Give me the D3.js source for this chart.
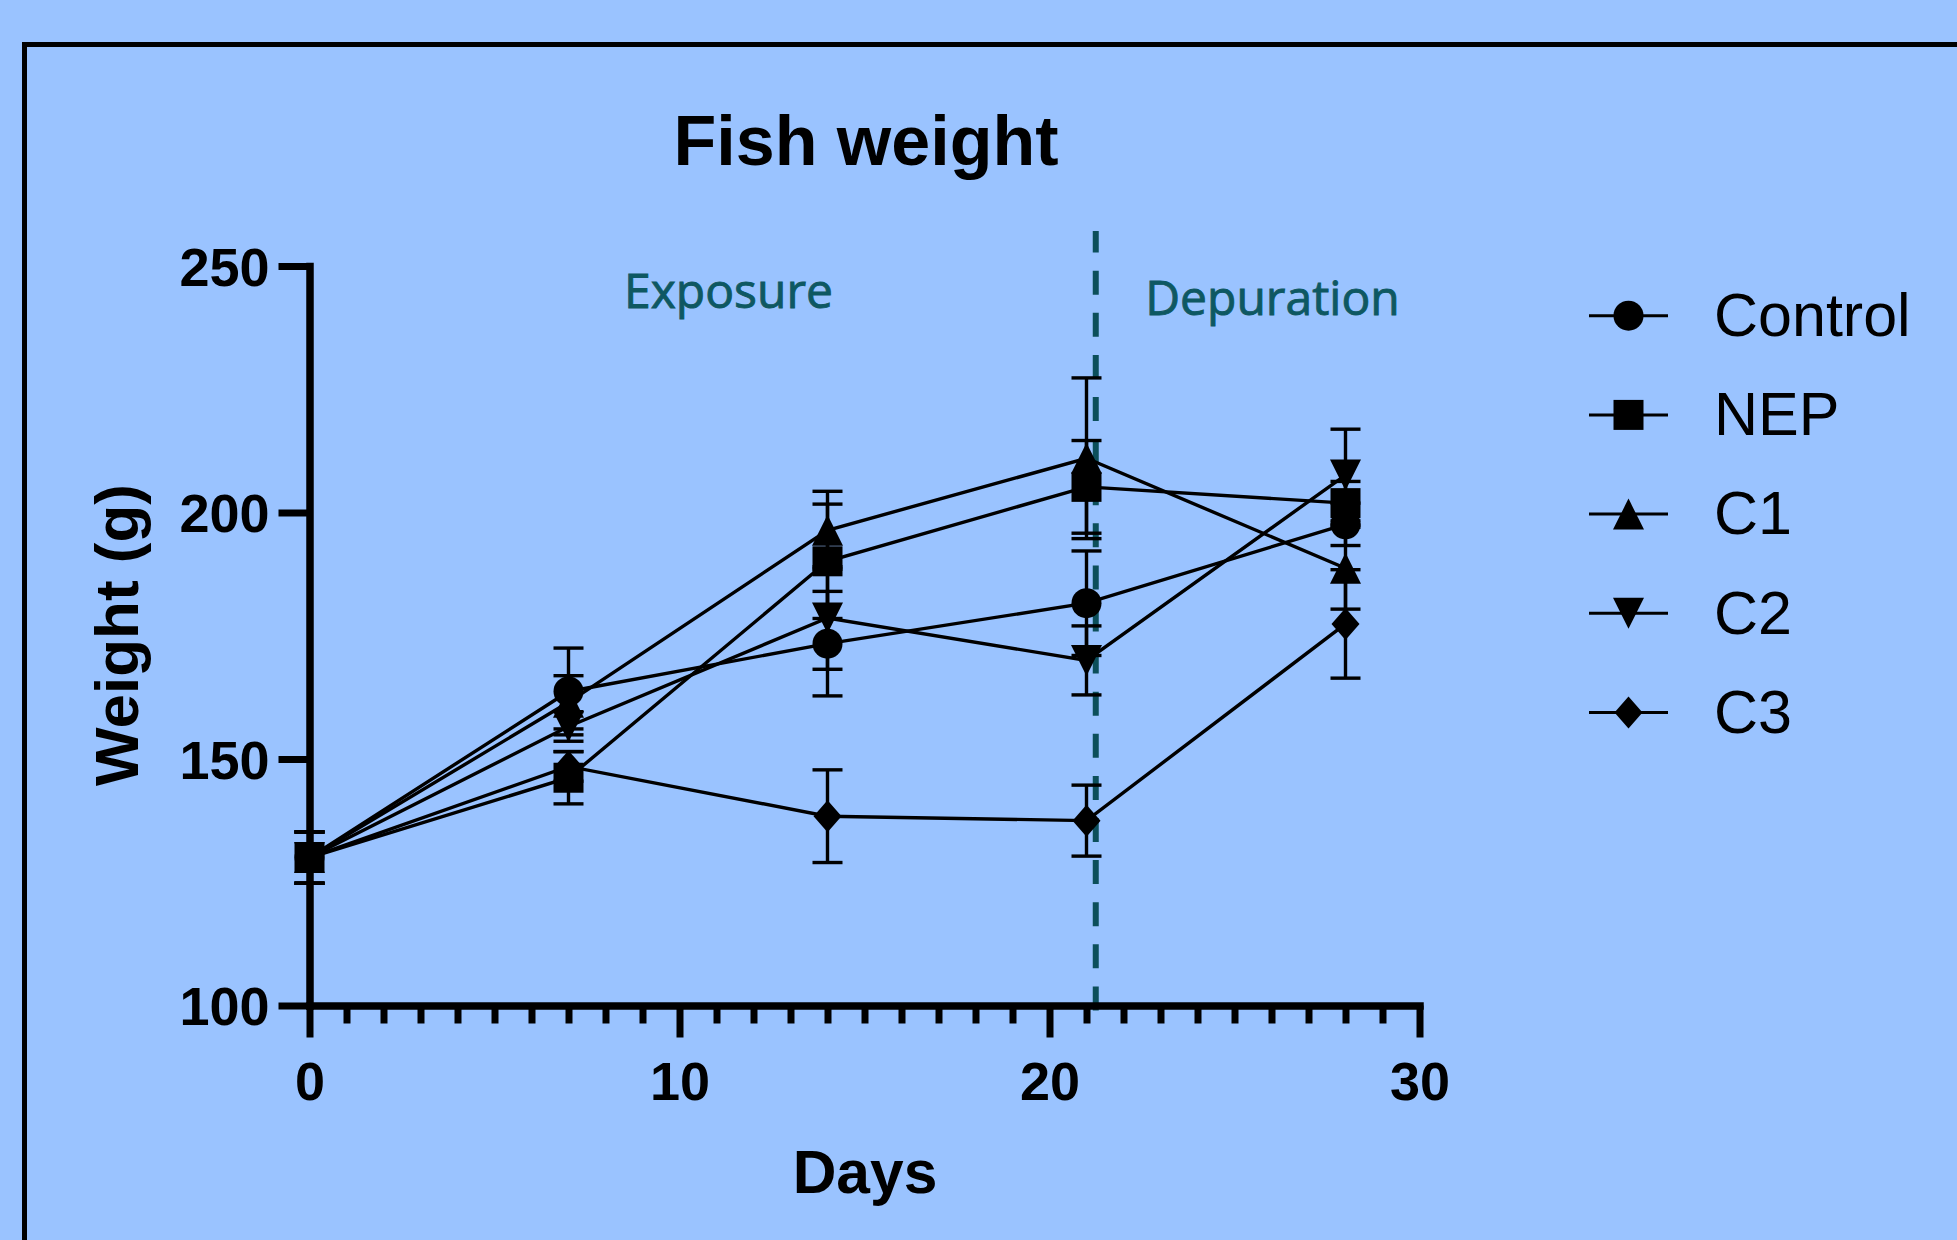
<!DOCTYPE html>
<html>
<head>
<meta charset="utf-8">
<script src="https://cdn.jsdelivr.net/npm/d3@7"></script>
<style>
  html, body { margin: 0; padding: 0; background: #9AC3FF; overflow: hidden; }
  svg { display: block; }
</style>
</head>
<body>
<svg id="chart" width="1957" height="1240"></svg>
<script>
// ---------------- DATA ----------------
const days = [0, 7, 14, 21, 28];
const seriesNames = ["Control", "NEP", "C1", "C2", "C3"];
const controlMean = [130, 163.7, 173.4, 181.6, 197.6];
const controlSD   = [5.2, 8.8, 10.6, 10.6, 4.3];
const nepMean     = [130, 146.2, 190.1, 205.2, 201.9];
const nepSD       = [5.2, 5.3, 11.6, 9.4, 4.4];
const c1Mean      = [130, 161.5, 196.4, 211.0, 188.7];
const c1SD        = [5.2, 5.4, 7.9, 16.3, 8.3];
const c2Mean      = [130, 156.6, 178.6, 170.0, 207.6];
const c2SD        = [5.2, 3.0, 10.4, 7.0, 9.3];
const c3Mean      = [130, 148.5, 138.4, 137.5, 177.4];
const c3SD        = [5.2, 3.0, 9.4, 7.2, 11.0];
const xTickLabels = [0, 10, 20, 30];
const yTickLabels = [100, 150, 200, 250];
const phaseBoundary = 21.25;
const phaseLabels = ["Exposure", "Depuration"];
const titleText = "Fish weight";
const xAxisTitle = "Days";
const yAxisTitle = "Weight (g)";

// ---------------- LAYOUT ----------------
const svg = d3.select("#chart");
const W = 1957, H = 1240;
const FONT = "'Liberation Sans', Arial, Helvetica, sans-serif";
const TEAL = "#0C4F5B";
const TEAL_TEXT = "#0E5862";

svg.append("rect").attr("width", W).attr("height", H).attr("fill", "#9AC3FF");
// frame (extends beyond the window on right and bottom)
svg.append("rect")
  .attr("x", 24.5).attr("y", 44.5).attr("width", W + 50).attr("height", H + 50)
  .attr("fill", "none").attr("stroke", "#000").attr("stroke-width", 5);

const x = d3.scaleLinear().domain([0, 30]).range([309.5, 1419.5]);
const y = d3.scaleLinear().domain([100, 250]).range([1005.5, 266]);

const series = [
  { name: seriesNames[0], mean: controlMean, sd: controlSD, shape: "circle" },
  { name: seriesNames[1], mean: nepMean,     sd: nepSD,     shape: "square" },
  { name: seriesNames[2], mean: c1Mean,      sd: c1SD,      shape: "triUp" },
  { name: seriesNames[3], mean: c2Mean,      sd: c2SD,      shape: "triDown" },
  { name: seriesNames[4], mean: c3Mean,      sd: c3SD,      shape: "diamond" }
];

function markerPath(shape) {
  switch (shape) {
    case "circle":  return d3.symbol(d3.symbolCircle, Math.PI * 15 * 15)();
    case "square":  return "M-15,-15H15V15H-15Z";
    case "triUp":   return "M0,-15.5L15.5,15.5L-15.5,15.5Z";
    case "triDown": return "M0,15.5L15.5,-15.5L-15.5,-15.5Z";
    case "diamond": return "M0,-16L14,0L0,16L-14,0Z";
  }
}

// ---------------- TITLE ----------------
svg.append("text").attr("x", 866).attr("y", 165)
  .attr("text-anchor", "middle").attr("font-family", FONT)
  .attr("font-weight", "bold").attr("font-size", 70).attr("fill", "#000")
  .text(titleText);

// ---------------- PHASE DIVIDER ----------------
svg.append("line")
  .attr("x1", x(phaseBoundary)).attr("x2", x(phaseBoundary))
  .attr("y1", 231).attr("y2", 1023)
  .attr("stroke", TEAL).attr("stroke-width", 6)
  .attr("stroke-dasharray", "24,18.1")
  .attr("stroke-dashoffset", 2.4);

[[phaseLabels[0], 728.5, 308], [phaseLabels[1], 1272.5, 315]].forEach(([t, tx, ty]) => {
  svg.append("text").attr("x", tx).attr("y", ty)
    .attr("text-anchor", "middle").attr("font-family", "'Open Sans', 'Noto Sans', sans-serif")
    .attr("font-size", 48).attr("fill", TEAL_TEXT)
    .attr("stroke", TEAL_TEXT).attr("stroke-width", 0.9)
    .text(t);
});

// ---------------- AXES ----------------
const yAxis = d3.axisLeft(y).tickValues(yTickLabels).tickSize(31).tickSizeOuter(0).tickPadding(9);
const gy = svg.append("g").attr("transform", `translate(${x(0)},0)`).call(yAxis);

const xMinor = d3.axisBottom(x).tickValues(d3.range(0, 31).filter(d => d % 10 !== 0))
  .tickSize(18).tickSizeOuter(0).tickFormat("");
const gxm = svg.append("g").attr("transform", `translate(0,${y(100)})`).call(xMinor);
gxm.select(".domain").remove();

const xAxis = d3.axisBottom(x).tickValues(xTickLabels).tickSize(32).tickSizeOuter(0).tickPadding(24);
const gx = svg.append("g").attr("transform", `translate(0,${y(100)})`).call(xAxis);

[gy, gx, gxm].forEach(g => {
  g.selectAll(".domain").attr("stroke", "#000").attr("stroke-width", 7.5).attr("stroke-linecap", "square");
  g.selectAll(".tick line").attr("stroke", "#000").attr("stroke-width", 7);
  g.selectAll(".tick text").attr("fill", "#000").attr("font-family", FONT)
    .attr("font-weight", "bold").attr("font-size", 54);
});
gy.selectAll(".tick text").attr("dy", "0.36em");

// axis titles
svg.append("text").attr("transform", "translate(138,635) rotate(-90)")
  .attr("text-anchor", "middle").attr("font-family", FONT)
  .attr("font-weight", "bold").attr("font-size", 62).attr("fill", "#000")
  .text(yAxisTitle);
svg.append("text").attr("x", 865).attr("y", 1193)
  .attr("text-anchor", "middle").attr("font-family", FONT)
  .attr("font-weight", "bold").attr("font-size", 60.5).attr("fill", "#000")
  .text(xAxisTitle);

// ---------------- SERIES ----------------
const line = d3.line().x(d => x(d.day)).y(d => y(d.mean));
const plot = svg.append("g");

series.forEach(s => {
  const pts = days.map((d, i) => ({ day: d, mean: s.mean[i], sd: s.sd[i] }));
  const g = plot.append("g");
  // error bars
  pts.forEach(p => {
    const cx = x(p.day);
    const yTop = y(p.mean + p.sd), yBot = y(p.mean - p.sd);
    g.append("line").attr("x1", cx).attr("x2", cx).attr("y1", yTop).attr("y2", yBot)
      .attr("stroke", "#000").attr("stroke-width", 3.4);
    [yTop, yBot].forEach(yy => {
      g.append("line").attr("x1", cx - 15).attr("x2", cx + 15).attr("y1", yy).attr("y2", yy)
        .attr("stroke", "#000").attr("stroke-width", 3.4);
    });
  });
  // line
  g.append("path").datum(pts).attr("d", line)
    .attr("fill", "none").attr("stroke", "#000").attr("stroke-width", 3.4);
  // markers
  g.selectAll("path.mk").data(pts).enter().append("path").attr("class", "mk")
    .attr("transform", p => `translate(${x(p.day)},${y(p.mean)})`)
    .attr("d", markerPath(s.shape)).attr("fill", "#000");
});

// ---------------- LEGEND ----------------
const legend = svg.append("g");
series.forEach((s, i) => {
  const ly = 315.7 + i * 99.2;
  legend.append("line").attr("x1", 1589).attr("x2", 1668).attr("y1", ly).attr("y2", ly)
    .attr("stroke", "#000").attr("stroke-width", 3);
  legend.append("path").attr("transform", `translate(1628.5,${ly})`)
    .attr("d", markerPath(s.shape)).attr("fill", "#000");
  legend.append("text").attr("x", 1714).attr("y", ly + 20.3)
    .attr("font-family", FONT).attr("font-size", 61).attr("fill", "#000")
    .text(s.name);
});
</script>
</body>
</html>
